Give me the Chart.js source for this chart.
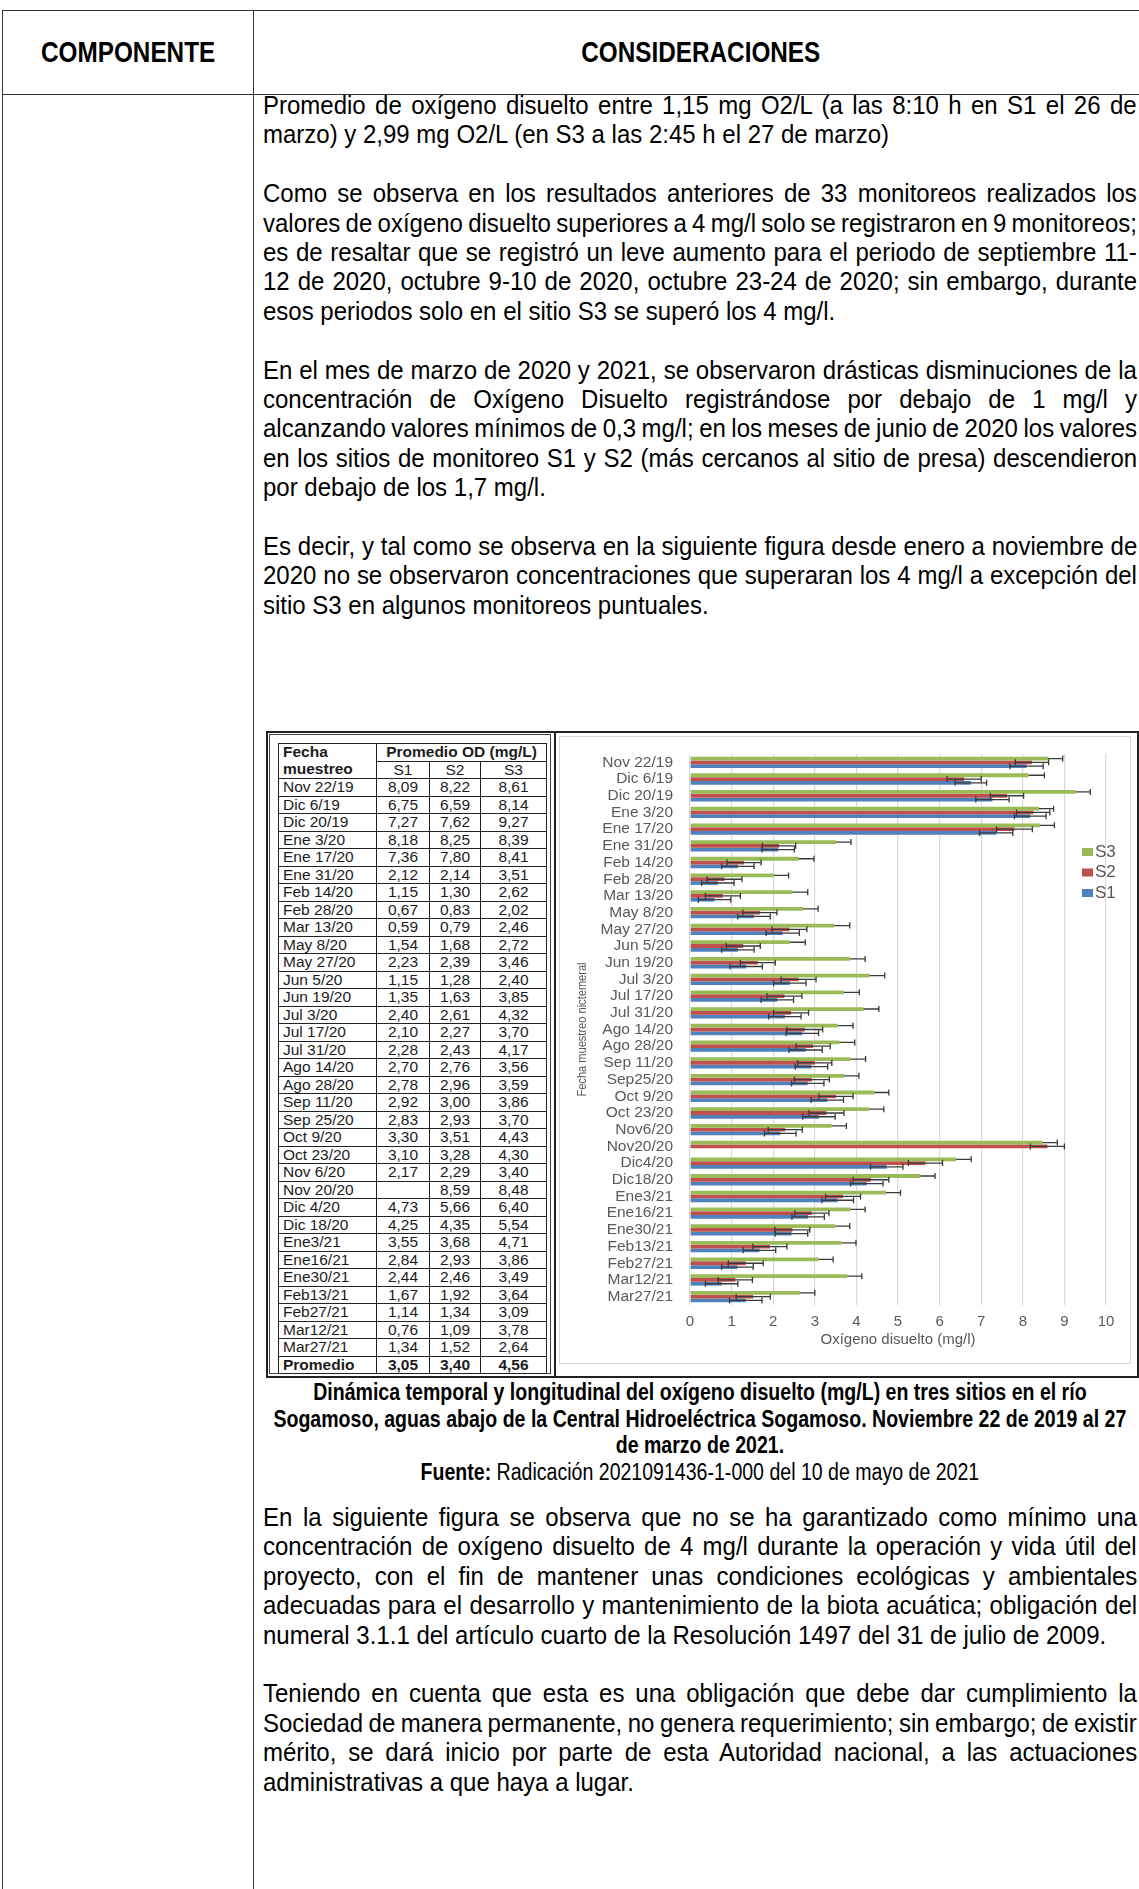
<!DOCTYPE html>
<html lang="es">
<head>
<meta charset="utf-8">
<title>Oxígeno disuelto - río Sogamoso</title>
<script src="https://cdn.jsdelivr.net/npm/chart.js@4.4.1/dist/chart.umd.min.js"></script>
<style>
  html, body { margin: 0; padding: 0; background: #fff; }
  body { position: relative; width: 1139px; height: 1889px; overflow: hidden; color: #000;
         font-family: "Liberation Sans", Arial, sans-serif; }
  .linea { position: absolute; background: #333; }
  /* texto condensado: se escala en horizontal para imitar una fuente estrecha */
  .cond { transform-origin: 0 0; white-space: nowrap; }
  .cab { position: absolute; top: 33px; height: 38px; line-height: 38px; font-weight: bold; font-size: 30px; text-align: center; }
  .texto { position: absolute; left: 263px; width: 874px; font-size: 26px; line-height: 29.4px; }
  .texto div { height: 29.4px; width: 947px; transform: scaleX(0.923); }
  .leyenda { position: absolute; left: 263px; width: 874px; font-size: 23px; line-height: 26.6px; }
  .leyenda div { height: 26.6px; width: 1028px; text-align: center; transform: scaleX(0.85); }
  #figura { position: absolute; left: 266px; top: 731px; width: 869px; height: 643px; border: 2px solid #222; background: #fff; }
  #divisor { position: absolute; left: 286px; top: 0; width: 2px; height: 643px; background: #222; }
  #marcoTabla { position: absolute; left: 1px; top: 1px; width: 282px; height: 640px; border: 1px solid #444; box-sizing: border-box; }
  #tablaOD { position: absolute; left: 10px; top: 10px; border-collapse: collapse;
             font-size: 15.5px; color: #1c1c1c; }
  #tablaOD td, #tablaOD th { border: 1px solid #222; height: 16.5px; padding: 0; line-height: 16px; white-space: nowrap; }
  #tablaOD th { font-weight: bold; }
  #tablaOD td.f { text-align: left; padding-left: 4px; }
  #tablaOD td.v { text-align: center; }
  #panelGrafico { position: absolute; left: 291px; top: 3px; width: 572px; height: 628px; border: 1px solid #d9d9d9; box-sizing: border-box; }
  #grafico { position: absolute; left: -1px; top: -1px; }
</style>
</head>
<body>

<!-- cuadro del documento -->
<div class="linea" style="left:2px; top:10px; width:1137px; height:1px;"></div>
<div class="linea" style="left:2px; top:94px; width:1137px; height:1px;"></div>
<div class="linea" style="left:2px; top:10px; width:1px; height:1879px;"></div>
<div class="linea" style="left:253px; top:10px; width:1px; height:1879px;"></div>

<div class="cab cond" style="left:3px; width:309px; transform:scaleX(0.81);">COMPONENTE</div>
<div class="cab cond" style="left:263px; width:1081px; transform:scaleX(0.81);">CONSIDERACIONES</div>

<div class="texto" style="top:91px;">
  <div class="cond j">Promedio de oxígeno disuelto entre 1,15 mg O2/L (a las 8:10 h en S1 el 26 de</div>
  <div class="cond">marzo) y 2,99 mg O2/L (en S3 a las 2:45 h el 27 de marzo)</div>
  <div></div>
  <div class="cond j">Como se observa en los resultados anteriores de 33 monitoreos realizados los</div>
  <div class="cond j">valores de oxígeno disuelto superiores a 4 mg/l solo se registraron en 9 monitoreos;</div>
  <div class="cond j">es de resaltar que se registró un leve aumento para el periodo de septiembre 11-</div>
  <div class="cond j">12 de 2020, octubre 9-10 de 2020, octubre 23-24 de 2020; sin embargo, durante</div>
  <div class="cond">esos periodos solo en el sitio S3 se superó los 4 mg/l.</div>
  <div></div>
  <div class="cond j">En el mes de marzo de 2020 y 2021, se observaron drásticas disminuciones de la</div>
  <div class="cond j">concentración de Oxígeno Disuelto registrándose por debajo de 1 mg/l y</div>
  <div class="cond j">alcanzando valores mínimos de 0,3 mg/l; en los meses de junio de 2020 los valores</div>
  <div class="cond j">en los sitios de monitoreo S1 y S2 (más cercanos al sitio de presa) descendieron</div>
  <div class="cond">por debajo de los 1,7 mg/l.</div>
  <div></div>
  <div class="cond j">Es decir, y tal como se observa en la siguiente figura desde enero a noviembre de</div>
  <div class="cond j">2020 no se observaron concentraciones que superaran los 4 mg/l a excepción del</div>
  <div class="cond">sitio S3 en algunos monitoreos puntuales.</div>
</div>

<div id="figura">
  <div id="marcoTabla"></div>
  <table id="tablaOD"></table>
  <div id="divisor"></div>
  <div id="panelGrafico"><canvas id="grafico" width="572" height="628"></canvas></div>
</div>

<div class="leyenda" style="top:1379px;">
  <div class="cond"><b>Dinámica temporal y longitudinal del oxígeno disuelto (mg/L) en tres sitios en el río</b></div>
  <div class="cond"><b>Sogamoso, aguas abajo de la Central Hidroeléctrica Sogamoso. Noviembre 22 de 2019 al 27</b></div>
  <div class="cond"><b>de marzo de 2021.</b></div>
  <div class="cond"><b>Fuente:</b> Radicación 2021091436-1-000 del 10 de mayo de 2021</div>
</div>

<div class="texto" style="top:1503px;">
  <div class="cond j">En la siguiente figura se observa que no se ha garantizado como mínimo una</div>
  <div class="cond j">concentración de oxígeno disuelto de 4 mg/l durante la operación y vida útil del</div>
  <div class="cond j">proyecto, con el fin de mantener unas condiciones ecológicas y ambientales</div>
  <div class="cond j">adecuadas para el desarrollo y mantenimiento de la biota acuática; obligación del</div>
  <div class="cond">numeral 3.1.1 del artículo cuarto de la Resolución 1497 del 31 de julio de 2009.</div>
  <div></div>
  <div class="cond j">Teniendo en cuenta que esta es una obligación que debe dar cumplimiento la</div>
  <div class="cond j">Sociedad de manera permanente, no genera requerimiento; sin embargo; de existir</div>
  <div class="cond j">mérito, se dará inicio por parte de esta Autoridad nacional, a las actuaciones</div>
  <div class="cond">administrativas a que haya a lugar.</div>
</div>

<script>
// fechas de muestreo (como aparecen en la tabla y en el eje del gráfico)
const fechasTabla = ['Nov 22/19', 'Dic 6/19', 'Dic 20/19', 'Ene 3/20', 'Ene 17/20', 'Ene 31/20', 'Feb 14/20',
  'Feb 28/20', 'Mar 13/20', 'May 8/20', 'May 27/20', 'Jun 5/20', 'Jun 19/20', 'Jul 3/20', 'Jul 17/20',
  'Jul 31/20', 'Ago 14/20', 'Ago 28/20', 'Sep 11/20', 'Sep 25/20', 'Oct 9/20', 'Oct 23/20', 'Nov 6/20',
  'Nov 20/20', 'Dic 4/20', 'Dic 18/20', 'Ene3/21', 'Ene16/21', 'Ene30/21', 'Feb13/21', 'Feb27/21',
  'Mar12/21', 'Mar27/21'];
const fechasGrafico = ['Nov 22/19', 'Dic 6/19', 'Dic 20/19', 'Ene 3/20', 'Ene 17/20', 'Ene 31/20', 'Feb 14/20',
  'Feb 28/20', 'Mar 13/20', 'May 8/20', 'May 27/20', 'Jun 5/20', 'Jun 19/20', 'Jul 3/20', 'Jul 17/20',
  'Jul 31/20', 'Ago 14/20', 'Ago 28/20', 'Sep 11/20', 'Sep25/20', 'Oct 9/20', 'Oct 23/20', 'Nov6/20',
  'Nov20/20', 'Dic4/20', 'Dic18/20', 'Ene3/21', 'Ene16/21', 'Ene30/21', 'Feb13/21', 'Feb27/21',
  'Mar12/21', 'Mar27/21'];

// promedio OD (mg/L) por sitio
const s1 = [8.09, 6.75, 7.27, 8.18, 7.36, 2.12, 1.15, 0.67, 0.59, 1.54, 2.23, 1.15, 1.35, 2.40, 2.10, 2.28,
  2.70, 2.78, 2.92, 2.83, 3.30, 3.10, 2.17, null, 4.73, 4.25, 3.55, 2.84, 2.44, 1.67, 1.14, 0.76, 1.34];
const s2 = [8.22, 6.59, 7.62, 8.25, 7.80, 2.14, 1.30, 0.83, 0.79, 1.68, 2.39, 1.28, 1.63, 2.61, 2.27, 2.43,
  2.76, 2.96, 3.00, 2.93, 3.51, 3.28, 2.29, 8.59, 5.66, 4.35, 3.68, 2.93, 2.46, 1.92, 1.34, 1.09, 1.52];
const s3 = [8.61, 8.14, 9.27, 8.39, 8.41, 3.51, 2.62, 2.02, 2.46, 2.72, 3.46, 2.40, 3.85, 4.32, 3.70, 4.17,
  3.56, 3.59, 3.86, 3.70, 4.43, 4.30, 3.40, 8.48, 6.40, 5.54, 4.71, 3.86, 3.49, 3.64, 3.09, 3.78, 2.64];
const promedios = [3.05, 3.40, 4.56];

// desviación mostrada en las barras de error
const errS1 = [0.40, 0.38, 0.40, 0.38, 0.40, 0.39, 0.39, 0.39, 0.39, 0.39, 0.40, 0.39, 0.39, 0.39, 0.39, 0.39,
  0.39, 0.40, 0.39, 0.39, 0.39, 0.39, 0.38, null, 0.39, 0.39, 0.38, 0.39, 0.39, 0.39, 0.38, 0.39, 0.39];
const errS2 = [0.40, 0.41, 0.40, 0.40, 0.43, 0.40, 0.41, 0.42, 0.42, 0.41, 0.42, 0.41, 0.42, 0.42, 0.42, 0.42,
  0.43, 0.41, 0.41, 0.42, 0.41, 0.42, 0.41, 0.41, 0.41, 0.43, 0.42, 0.41, 0.42, 0.41, 0.42, 0.41, 0.41];
const errS3 = [0.35, 0.38, 0.35, 0.35, 0.35, 0.36, 0.36, 0.35, 0.37, 0.36, 0.38, 0.37, 0.36, 0.36, 0.37, 0.37,
  0.36, 0.37, 0.36, 0.36, 0.35, 0.36, 0.36, 0.35, 0.36, 0.35, 0.35, 0.35, 0.35, 0.35, 0.35, 0.35, 0.36];

const sitios = ['S3', 'S2', 'S1'];
const colores = ['#9BBB59', '#C0504D', '#4F81BD'];

const coma = v => (v == null ? '' : v.toFixed(2).replace('.', ','));

// ---- tabla de promedios ----
function crearTabla() {
  let html = `
    <colgroup><col style="width:98px"><col style="width:53px"><col style="width:51px"><col style="width:66px"></colgroup>
    <tr><th rowspan="2" style="text-align:left; padding-left:4px; vertical-align:top; line-height:16.5px;">Fecha<br>muestreo</th>
        <th colspan="3">Promedio OD (mg/L)</th></tr>
    <tr><td class="v">S1</td><td class="v">S2</td><td class="v">S3</td></tr>`;
  fechasTabla.forEach((f, i) => {
    html += `<tr><td class="f">${f}</td><td class="v">${coma(s1[i])}</td><td class="v">${coma(s2[i])}</td><td class="v">${coma(s3[i])}</td></tr>`;
  });
  html += `<tr><th style="text-align:left; padding-left:4px;">Promedio</th>` +
    promedios.map(p => `<th>${coma(p)}</th>`).join('') + `</tr>`;
  document.getElementById('tablaOD').innerHTML = html;
}

// ---- texto justificado línea por línea (ancho sin escalar: 874 / 0.923) ----
function justificar() {
  document.querySelectorAll('.texto .j').forEach(el => {
    const span = document.createElement('span');
    span.textContent = el.textContent;
    el.textContent = '';
    el.appendChild(span);
    const natural = span.offsetWidth;
    const espacios = (span.textContent.match(/ /g) || []).length;
    if (espacios > 0) el.style.wordSpacing = ((947 - natural) / espacios) + 'px';
  });
}

// barras de error horizontales
const barrasError = {
  id: 'barrasError',
  afterDatasetsDraw(chart) {
    const ctx = chart.ctx;
    const x = chart.scales.x;
    ctx.save();
    ctx.strokeStyle = '#3a3a3a';
    ctx.lineWidth = 1.3;
    chart.data.datasets.forEach((ds, i) => {
      chart.getDatasetMeta(i).data.forEach((bar, j) => {
        const v = ds.data[j];
        const e = ds.errores[j];
        if (v == null || e == null) return;
        const x0 = x.getPixelForValue(ds.soloPositivo ? v : v - e);
        const x1 = x.getPixelForValue(v + e);
        const y = bar.y;
        ctx.beginPath();
        ctx.moveTo(x0, y); ctx.lineTo(x1, y);
        ctx.moveTo(x1, y - 3); ctx.lineTo(x1, y + 3);
        if (!ds.soloPositivo) { ctx.moveTo(x0, y - 3); ctx.lineTo(x0, y + 3); }
        ctx.stroke();
      });
    });
    ctx.restore();
  }
};

// leyenda dentro del área de trazado y título del eje de fechas en letra estrecha
const rotulos = {
  id: 'rotulos',
  afterDraw(chart) {
    const ctx = chart.ctx;
    const area = chart.chartArea;
    ctx.save();
    ctx.font = '17px "Liberation Sans", Arial, sans-serif';
    ctx.textBaseline = 'middle';
    chart.data.datasets.forEach((ds, i) => {
      const y = area.top + 98 + i * 20.5;
      ctx.fillStyle = ds.backgroundColor;
      ctx.fillRect(area.right - 24, y - 4, 11, 8);
      ctx.fillStyle = '#595959';
      ctx.fillText(ds.label, area.right - 11, y);
    });
    ctx.restore();

    ctx.save();
    ctx.translate(23, (area.top + area.bottom) / 2);
    ctx.rotate(-Math.PI / 2);
    ctx.scale(0.82, 1);
    ctx.font = '13.5px "Liberation Sans", Arial, sans-serif';
    ctx.fillStyle = '#595959';
    ctx.textAlign = 'center';
    ctx.textBaseline = 'middle';
    ctx.fillText('Fecha muestreo nictemeral', 0, 0);
    ctx.restore();
  }
};

function crearGrafico() {
  const series = [s3, s2, s1];
  const errores = [errS3, errS2, errS1];
  const ctx = document.getElementById('grafico').getContext('2d');
  new Chart(ctx, {
    type: 'bar',
    data: {
      labels: fechasGrafico,
      datasets: sitios.map((s, i) => ({
        label: s,
        data: series[i],
        errores: errores[i],
        soloPositivo: i === 0,
        backgroundColor: colores[i],
        borderWidth: 0,
        categoryPercentage: 0.68,
        barPercentage: 1.0
      }))
    },
    options: {
      indexAxis: 'y',
      responsive: false,
      animation: false,
      layout: { padding: { left: 8, right: 25, top: 18, bottom: 8 } },
      plugins: { legend: { display: false }, tooltip: { enabled: false } },
      scales: {
        x: {
          min: 0,
          max: 10,
          ticks: { stepSize: 1, padding: 8, color: '#595959', font: { size: 15 } },
          grid: { color: '#d9d9d9', lineWidth: 1.2, drawTicks: false },
          border: { display: false },
          title: {
            display: true,
            text: 'Oxígeno disuelto (mg/l)',
            color: '#595959',
            font: { size: 15 },
            padding: { top: 2, bottom: 7 }
          },
          afterFit(scale) { scale.height = 51; }
        },
        y: {
          ticks: { padding: 17, color: '#595959', autoSkip: false, font: { size: 15.5 } },
          grid: { display: false, drawTicks: false },
          border: { display: false },
          afterFit(scale) {
            scale.width = 123;
            // sin margen extra arriba/abajo: la altura la fija el relleno del lienzo
            scale.paddingTop = 0;
            scale.paddingBottom = 0;
          }
        }
      }
    },
    plugins: [barrasError, rotulos]
  });
}

Chart.defaults.font.family = '"Liberation Sans", Arial, sans-serif';
crearTabla();
justificar();
crearGrafico();
</script>
</body>
</html>
